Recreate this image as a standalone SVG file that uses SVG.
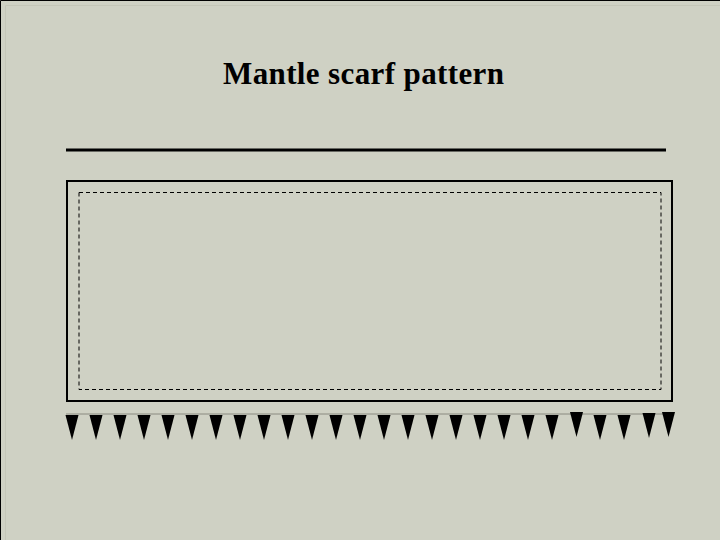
<svg xmlns="http://www.w3.org/2000/svg" width="720" height="540" viewBox="0 0 720 540">
<style>
.tri{fill:#000}
.title{font-family:"Liberation Serif","Times New Roman",serif;font-weight:bold;font-size:31px;fill:#000}
</style>
<defs>
<polygon id="t" class="tri" points="-6.5,0 6.5,0 0,25"/>
</defs>
<rect x="0" y="0" width="720" height="540" fill="#CFD1C4"/>
<path d="M0.5,540 V0.5 H720" fill="none" stroke="#000" stroke-width="1"/>
<path d="M5.5,540 V5.5 H720" fill="none" stroke="#C4C6B8" stroke-width="1"/>
<g id="title"><text class="title" x="363.5" y="84" text-anchor="middle" textLength="281" lengthAdjust="spacing">Mantle scarf pattern</text></g>
<g id="top-line"><line x1="66" y1="150" x2="666" y2="150" stroke="#000" stroke-width="3"/></g>
<g id="scarf">
<rect x="67" y="181" width="605" height="220" fill="none" stroke="#000" stroke-width="2"/>
<rect x="79" y="192.5" width="582" height="197" fill="none" stroke="#000" stroke-width="1" stroke-dasharray="4,3"/>
</g>
<g id="fringe">
<line x1="66" y1="414" x2="668" y2="414" stroke="#8a8a80" stroke-width="1"/>
<use href="#t" x="72" y="415"/><use href="#t" x="96" y="415"/><use href="#t" x="120" y="415"/><use href="#t" x="144" y="415"/><use href="#t" x="168" y="415"/>
<use href="#t" x="192" y="415"/><use href="#t" x="216" y="415"/><use href="#t" x="240" y="415"/><use href="#t" x="264" y="415"/><use href="#t" x="288" y="415"/>
<use href="#t" x="312" y="415"/><use href="#t" x="336" y="415"/><use href="#t" x="360" y="415"/><use href="#t" x="384" y="415"/><use href="#t" x="408" y="415"/>
<use href="#t" x="432" y="415"/><use href="#t" x="456" y="415"/><use href="#t" x="480" y="415"/><use href="#t" x="504" y="415"/><use href="#t" x="528" y="415"/>
<use href="#t" x="552" y="415"/><use href="#t" x="576.5" y="412"/><use href="#t" x="600" y="415"/><use href="#t" x="624" y="415"/><use href="#t" x="649" y="413"/>
<use href="#t" x="668.5" y="412"/>
</g>
</svg>
